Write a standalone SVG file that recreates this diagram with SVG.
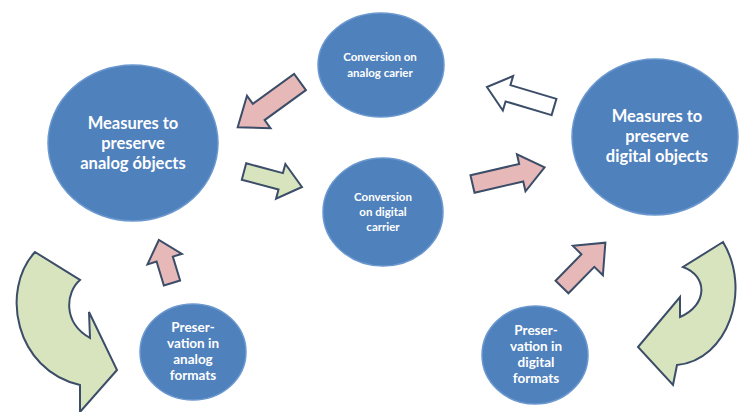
<svg xmlns="http://www.w3.org/2000/svg" width="741" height="412" viewBox="0 0 741 412">
<style>
.node{fill:#4f81bd;stroke:#6a98cf;stroke-width:1.5}
.t{fill:#ffffff;font-family:Lato,"Liberation Sans",sans-serif;font-weight:700;text-anchor:middle}
.big{font-size:16.5px}
.mid{font-size:11.5px}
.sm{font-size:13.5px}
.arr{stroke:#3b4d68;stroke-width:2;stroke-linejoin:miter}
.pink{fill:#e6b9b8}
.green{fill:#d7e4bd}
.white{fill:#ffffff}
</style>
<rect width="741" height="412" fill="#ffffff"/>
<g id="connectors">
<polygon class="arr pink" transform="translate(300,82) rotate(144)" points="0,-10 51,-10 51,-20 77,0 51,20 51,10 0,10"/>
<polygon class="arr green" transform="translate(244,171.5) rotate(15)" points="0,-8.5 38,-8.5 38,-18 60,0 38,18 38,8.5 0,8.5"/>
<polygon class="arr white" transform="translate(554,107) rotate(196.6)" points="0,-8.5 48,-8.5 48,-18 70,0 48,18 48,8.5 0,8.5"/>
<polygon class="arr pink" transform="translate(472.5,184) rotate(-13)" points="0,-9 50,-9 50,-19 74,0 50,19 50,9 0,9"/>
<polygon class="arr pink" transform="translate(172,283) rotate(-107)" points="0,-8.5 25,-8.5 25,-18 45,0 25,18 25,8.5 0,8.5"/>
<polygon class="arr pink" transform="translate(562,287) rotate(-45.6)" points="0,-9 37,-9 37,-21 62,0 37,21 37,9 0,9"/>
<path class="arr green" d="M35,252 L80,280 C66,292 62,322 90,338 L89,312 L117,370 L80,412 L80,385 C15,370 0,290 35,252 Z"/>
<path class="arr green" d="M723,242 L683,267 C708,276 708,305 680,317 L680,297 L638,347 L673,385 L677,365 C728,360 752,290 723,242 Z"/>
</g>
<g id="analog-objects">
<ellipse class="node" cx="133" cy="143" rx="85" ry="78"/>
<text class="t big" x="133" y="129">Measures to</text>
<text class="t big" x="133" y="149">preserve</text>
<text class="t big" x="133" y="169">analog óbjects</text>
</g>
<g id="conv-analog">
<ellipse class="node" cx="381" cy="65" rx="63" ry="52"/>
<text class="t mid" x="380" y="61">Conversion on</text>
<text class="t mid" x="380" y="77">analog carier</text>
</g>
<g id="conv-digital">
<ellipse class="node" cx="383" cy="212" rx="60" ry="54"/>
<text class="t mid" x="383" y="201">Conversion</text>
<text class="t mid" x="383" y="216">on digital</text>
<text class="t mid" x="383" y="231">carrier</text>
</g>
<g id="digital-objects">
<ellipse class="node" cx="655" cy="137" rx="83" ry="78"/>
<text class="t big" x="657" y="122">Measures to</text>
<text class="t big" x="657" y="142">preserve</text>
<text class="t big" x="657" y="162">digital objects</text>
</g>
<g id="pres-analog">
<ellipse class="node" cx="193" cy="352" rx="53" ry="48"/>
<text class="t sm" x="193" y="332">Preser-</text>
<text class="t sm" x="193" y="348">vation in</text>
<text class="t sm" x="193" y="364">analog</text>
<text class="t sm" x="193" y="380">formats</text>
</g>
<g id="pres-digital">
<ellipse class="node" cx="535" cy="355" rx="53" ry="49"/>
<text class="t sm" x="536" y="335">Preser-</text>
<text class="t sm" x="536" y="351">vation in</text>
<text class="t sm" x="536" y="367">digital</text>
<text class="t sm" x="536" y="383">formats</text>
</g>
</svg>
